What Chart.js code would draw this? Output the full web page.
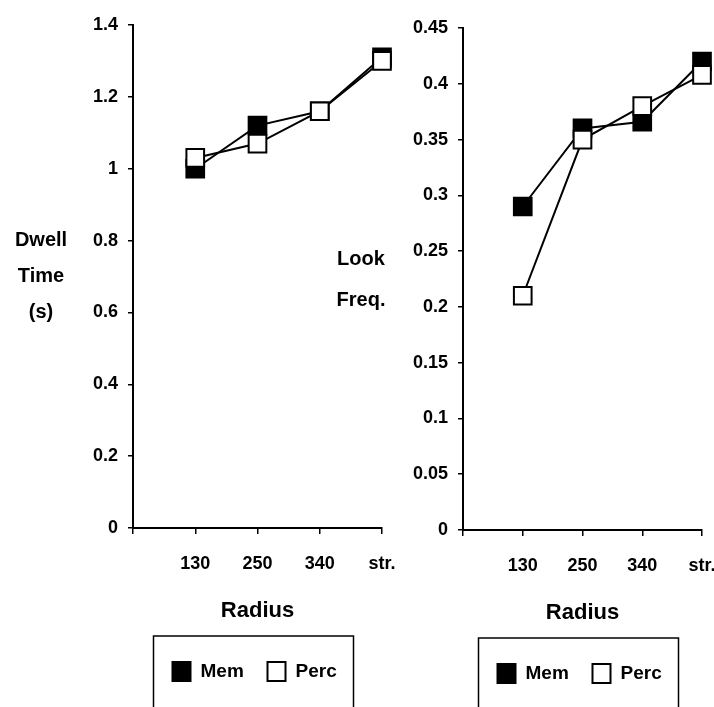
<!DOCTYPE html>
<html>
<head>
<meta charset="utf-8">
<script src="https://cdn.jsdelivr.net/npm/chart.js@4"></script>
<style>
    html, body { margin: 0; padding: 0; background: #fff; }
    #wrap { position: relative; width: 714px; height: 707px; overflow: hidden; background: #fff; }
    canvas { position: absolute; top: 0; }
    #dwellCanvas { left: 0; }
    #lookCanvas { left: 330px; }
</style>
</head>
<body>
<div id="wrap">
    <canvas id="dwellCanvas" width="400" height="707"></canvas>
    <canvas id="lookCanvas" width="390" height="707"></canvas>
</div>
<script>
// data
const radius = ['130', '250', '340', 'str.']
const seriesNames = ['Mem', 'Perc']
const dwellMem = [1.0, 1.12, 1.16, 1.31]
const dwellPerc = [1.03, 1.07, 1.16, 1.30]
const lookMem = [0.29, 0.36, 0.366, 0.42]
const lookPerc = [0.21, 0.35, 0.38, 0.408]
const dwellTicks = [0, 0.2, 0.4, 0.6, 0.8, 1, 1.2, 1.4]
const lookTicks = [0, 0.05, 0.1, 0.15, 0.2, 0.25, 0.3, 0.35, 0.4, 0.45]
const dwellTitle = ['Dwell', 'Time', '(s)']
const lookTitle = ['Look', 'Freq.']
const xTitle = 'Radius'

const fontFamily = '"Liberation Sans", Arial, Helvetica, sans-serif'

// y axis title written flat, left of the tick labels
const sideTitle = {
    id: 'sideTitle',
    afterDraw(chart, args, opts) {
        const ctx = chart.ctx
        ctx.save()
        ctx.fillStyle = '#000'
        ctx.font = 'bold 20px ' + fontFamily
        ctx.textAlign = 'center'
        ctx.textBaseline = 'middle'
        opts.lines.forEach((t, i) => ctx.fillText(t, opts.x, opts.y + i * opts.gap))
        ctx.restore()
    }
}

// legend inside an open-bottom box under the axis title
const boxLegend = {
    id: 'boxLegend',
    afterDraw(chart) {
        const ctx = chart.ctx
        const area = chart.chartArea
        const left = (area.left + area.right) / 2 - 104
        const top = area.bottom + 108
        ctx.save()
        ctx.strokeStyle = '#000'
        ctx.lineWidth = 1.5
        ctx.strokeRect(left, top, 200, 120)
        ctx.font = 'bold 19px ' + fontFamily
        ctx.textAlign = 'left'
        ctx.textBaseline = 'middle'
        const cy = top + 35
        const offsets = [19, 114]
        chart.data.datasets.forEach((ds, i) => {
            const x = left + offsets[i]
            ctx.fillStyle = ds.pointBackgroundColor
            ctx.fillRect(x, cy - 9, 18, 19)
            ctx.lineWidth = 2
            ctx.strokeStyle = '#000'
            ctx.strokeRect(x, cy - 9, 18, 19)
            ctx.fillStyle = '#000'
            ctx.fillText(ds.label, x + 28, cy + 1)
        })
        ctx.restore()
    }
}

function makeSeries(values, name, fill, order) {
    return {
        label: name,
        data: values.map((v, i) => ({ x: i + 1, y: v })),
        borderColor: '#000',
        borderWidth: 2,
        pointStyle: 'rect',
        pointRadius: 12.5,
        pointBorderWidth: 2,
        pointBorderColor: '#000',
        pointBackgroundColor: fill,
        order: order,
        clip: false,
        tension: 0
    }
}

function makeChart(canvasId, memValues, percValues, yTicks, pad, titlePos) {
    const canvas = document.getElementById(canvasId)
    return new Chart(canvas, {
        type: 'line',
        data: {
            datasets: [
                makeSeries(memValues, seriesNames[0], '#000', 2),
                makeSeries(percValues, seriesNames[1], '#fff', 1)
            ]
        },
        options: {
            responsive: false,
            animation: false,
            layout: { padding: pad, autoPadding: false },
            plugins: {
                legend: { display: false },
                tooltip: { enabled: false },
                sideTitle: titlePos
            },
            scales: {
                x: {
                    type: 'linear',
                    min: 0,
                    max: radius.length,
                    afterBuildTicks: scale => {
                        scale.ticks = [0, 1, 2, 3, 4].map(v => ({ value: v }))
                    },
                    afterFit: scale => {
                        scale.height = 100
                        // keep the end label from shrinking the plot
                        scale.paddingLeft = 0
                        scale.paddingRight = 0
                    },
                    border: { display: true, color: '#000', width: 2 },
                    grid: { drawOnChartArea: false, color: '#000', tickLength: 6, lineWidth: 1.5 },
                    ticks: {
                        color: '#000',
                        padding: 19,
                        maxRotation: 0,
                        font: { family: fontFamily, size: 18, weight: 'bold' },
                        callback: v => (v >= 1 ? radius[v - 1] : '')
                    },
                    title: {
                        display: true,
                        text: xTitle,
                        color: '#000',
                        padding: { top: 0, bottom: 4 },
                        font: { family: fontFamily, size: 22, weight: 'bold' }
                    }
                },
                y: {
                    min: yTicks[0],
                    max: yTicks[yTicks.length - 1],
                    afterBuildTicks: scale => {
                        scale.ticks = yTicks.map(v => ({ value: v }))
                    },
                    afterFit: scale => { scale.width = 133 },
                    border: { display: true, color: '#000', width: 2 },
                    grid: { drawOnChartArea: false, color: '#000', tickLength: 5, lineWidth: 1.5 },
                    ticks: {
                        color: '#000',
                        padding: 10,
                        font: { family: fontFamily, size: 18, weight: 'bold' },
                        callback: v => String(v)
                    }
                }
            }
        },
        plugins: [sideTitle, boxLegend]
    })
}

makeChart('dwellCanvas', dwellMem, dwellPerc, dwellTicks,
    { left: 0, right: 18, top: 25, bottom: 79 },
    { lines: dwellTitle, x: 41, y: 240, gap: 36 })

makeChart('lookCanvas', lookMem, lookPerc, lookTicks,
    { left: 0, right: 18, top: 28, bottom: 77 },
    { lines: lookTitle, x: 31, y: 259, gap: 41 })
</script>
</body>
</html>
